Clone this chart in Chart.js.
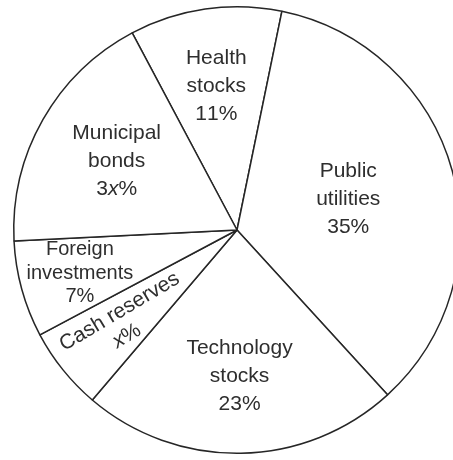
<!DOCTYPE html>
<html>
<head>
<meta charset="utf-8">
<script src="https://cdn.jsdelivr.net/npm/chart.js@4/dist/chart.umd.min.js"></script>
<style>
  html, body { margin: 0; padding: 0; background: #fff; overflow: hidden; }
  #wrap { width: 474px; height: 460px; }
</style>
</head>
<body>
<div id="wrap"><canvas id="portfolioChart"></canvas></div>
<script>
// Portfolio split; 11 + 35 + 23 + 7 + 4x = 100  ->  x = 6
var categories = ['Health stocks', 'Public utilities', 'Technology stocks', 'Cash reserves', 'Foreign investments', 'Municipal bonds'];
var shares = [11, 35, 23, 6, 7, 18];
var nameLines = [['Health', 'stocks'], ['Public', 'utilities'], ['Technology', 'stocks'], ['Cash reserves'], ['Foreign', 'investments'], ['Municipal', 'bonds']];
var shareLabels = ['11%', '35%', '23%', 'x%', '7%', '3x%'];

// how far out (fraction of radius) each label block sits
var labelDepth = [0.65, 0.517, 0.655, 0, 0.73, 0.62];

document.addEventListener('DOMContentLoaded', function () {
    var FAMILY = '"Liberation Sans", Arial, sans-serif';

    // a share label like "3x%" gets its x in italics
    function drawShare(ctx, text, x, y, size) {
        var parts = [];
        for (var k = 0; k < text.length; k++) {
            parts.push({ t: text[k], it: text[k] === 'x' });
        }
        var total = 0;
        parts.forEach(function (p) {
            ctx.font = (p.it ? 'italic ' : '') + size + 'px ' + FAMILY;
            p.w = ctx.measureText(p.t).width;
            total += p.w;
        });
        var cx = x - total / 2;
        ctx.textAlign = 'left';
        parts.forEach(function (p) {
            ctx.font = (p.it ? 'italic ' : '') + size + 'px ' + FAMILY;
            ctx.fillText(p.t, cx, y);
            cx += p.w;
        });
        ctx.textAlign = 'center';
    }

    var sliceLabels = {
        id: 'sliceLabels',
        afterDatasetsDraw: function (chart) {
            var ctx = chart.ctx;
            var arcs = chart.getDatasetMeta(0).data;
            ctx.save();
            ctx.fillStyle = '#2e2e2e';
            ctx.textBaseline = 'middle';
            ctx.textAlign = 'center';
            arcs.forEach(function (arc, i) {
                if (i === 3) {
                    // thin slice: text runs along its upper edge
                    var a = arc.endAngle;
                    var tilt = -2.7 * Math.PI / 180;
                    ctx.save();
                    ctx.translate(arc.x, arc.y);
                    ctx.rotate(a + Math.PI);
                    ctx.save();
                    ctx.translate(-142, 17);
                    ctx.rotate(tilt);
                    ctx.font = '21px ' + FAMILY;
                    ctx.fillText(nameLines[i][0], 0, 0);
                    ctx.restore();
                    ctx.save();
                    ctx.translate(-147, 42);
                    ctx.rotate(tilt);
                    drawShare(ctx, shareLabels[i], 0, 0, 21);
                    ctx.restore();
                    ctx.restore();
                    return;
                }
                var size = i === 4 ? 20 : 21;
                var lineH = i === 4 ? 23.5 : 28;
                var mid = (arc.startAngle + arc.endAngle) / 2;
                var r = arc.outerRadius * labelDepth[i];
                var px = arc.x + Math.cos(mid) * r;
                var py = arc.y + Math.sin(mid) * r;
                var lines = nameLines[i].concat([shareLabels[i]]);
                var top = py - (lines.length - 1) * lineH / 2;
                lines.forEach(function (ln, j) {
                    var y = top + j * lineH;
                    if (j === lines.length - 1) {
                        drawShare(ctx, ln, px, y, size);
                    } else {
                        ctx.font = size + 'px ' + FAMILY;
                        ctx.fillText(ln, px, y);
                    }
                });
            });
            ctx.restore();
        }
    };

    var canvas = document.getElementById('portfolioChart').getContext('2d');
    new Chart(canvas, {
        type: 'pie',
        data: {
            labels: categories,
            datasets: [{
                data: shares,
                backgroundColor: '#ffffff',
                borderColor: '#262626',
                borderWidth: 1.5,
                borderAlign: 'center'
            }]
        },
        options: {
            responsive: true,
            maintainAspectRatio: false,
            animation: false,
            rotation: -28,
            layout: { padding: 6 },
            plugins: {
                legend: { display: false },
                tooltip: { enabled: false }
            }
        },
        plugins: [sliceLabels]
    });
});
</script>
</body>
</html>
